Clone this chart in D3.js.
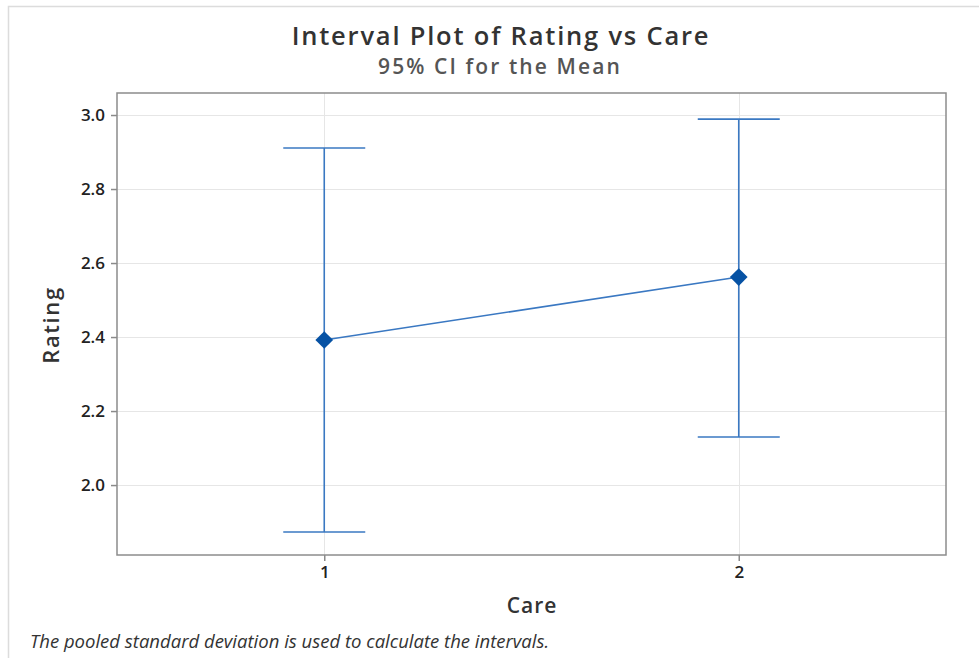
<!DOCTYPE html>
<html>
<head>
<meta charset="utf-8">
<script src="https://cdn.jsdelivr.net/npm/d3@7"></script>
<style>
  html, body { margin: 0; padding: 0; background: #fff; }
  svg { display: block; font-family: "Open Sans", "Noto Sans", sans-serif; }
</style>
</head>
<body>
<svg id="chart" width="979" height="658"></svg>
<script>
// Interval plot data: group means with 95% CI bounds
const categories = [1, 2];
const means = [2.392, 2.562];
const lower = [1.873, 2.130];
const upper = [2.911, 2.989];
const yTicks = [2.0, 2.2, 2.4, 2.6, 2.8, 3.0];

const svg = d3.select("#chart");
const W = 979, H = 658;
const plot = { left: 117, right: 946, top: 93, bottom: 555 };

// outer frame
svg.append("path")
  .attr("d", `M8.5,${H} V6.5 H${W}`)
  .attr("fill", "none").attr("stroke", "#dcdcdc").attr("stroke-width", 1.5);

const x = d3.scaleLinear().domain([0.5, 2.5]).range([plot.left, plot.right]);
const y = d3.scaleLinear().domain([1.811, 3.0595]).range([plot.bottom, plot.top]);

// gridlines
const grid = svg.append("g");
grid.selectAll("line.h").data(yTicks).join("line")
  .attr("x1", plot.left).attr("x2", plot.right)
  .attr("y1", d => Math.round(y(d)) + 0.5).attr("y2", d => Math.round(y(d)) + 0.5)
  .attr("stroke", "#e6e6e6").attr("stroke-width", 1);
grid.selectAll("line.v").data(categories).join("line")
  .attr("y1", plot.top).attr("y2", plot.bottom)
  .attr("x1", d => Math.round(x(d)) + 0.5).attr("x2", d => Math.round(x(d)) + 0.5)
  .attr("stroke", "#e6e6e6").attr("stroke-width", 1);

// axes
const yAxis = d3.axisLeft(y).tickValues(yTicks).tickFormat(d3.format(".1f")).tickSize(6).tickPadding(6);
const xAxis = d3.axisBottom(x).tickValues(categories).tickFormat(d3.format("d")).tickSize(6).tickPadding(5);

const gy = svg.append("g").attr("transform", `translate(${plot.left},0)`).call(yAxis);
const gx = svg.append("g").attr("transform", `translate(0,${plot.bottom})`).call(xAxis);
[gx, gy].forEach(g => {
  g.attr("font-size", 17).attr("font-family", "Open Sans, sans-serif");
  g.select(".domain").remove();
  g.selectAll(".tick line").attr("stroke", "#8a8a8a").attr("stroke-width", 1.5);
  g.selectAll(".tick text")
    .style("font-size", "17px").style("font-weight", "600").style("fill", "#222");
});

// plot frame
svg.append("rect")
  .attr("x", plot.left).attr("y", plot.top)
  .attr("width", plot.right - plot.left).attr("height", plot.bottom - plot.top)
  .attr("fill", "none").attr("stroke", "#8c8c8c").attr("stroke-width", 1.5);

const lineColor = "#3a78c2";
const markColor = "#0652a4";
const capHalf = 41;

// connecting line between means
svg.append("path")
  .datum(categories.map((c, i) => [c, means[i]]))
  .attr("d", d3.line().x(d => x(d[0])).y(d => y(d[1])))
  .attr("fill", "none").attr("stroke", lineColor).attr("stroke-width", 1.5);

// intervals
const iv = svg.append("g").selectAll("g").data(categories).join("g");
iv.append("line")
  .attr("x1", d => x(d)).attr("x2", d => x(d))
  .attr("y1", (d, i) => y(upper[i])).attr("y2", (d, i) => y(lower[i]))
  .attr("stroke", lineColor).attr("stroke-width", 1.6);
iv.append("line")
  .attr("x1", d => x(d) - capHalf).attr("x2", d => x(d) + capHalf)
  .attr("y1", (d, i) => y(upper[i])).attr("y2", (d, i) => y(upper[i]))
  .attr("stroke", lineColor).attr("stroke-width", 1.6);
iv.append("line")
  .attr("x1", d => x(d) - capHalf).attr("x2", d => x(d) + capHalf)
  .attr("y1", (d, i) => y(lower[i])).attr("y2", (d, i) => y(lower[i]))
  .attr("stroke", lineColor).attr("stroke-width", 1.6);

// mean markers
svg.append("g").selectAll("path").data(categories).join("path")
  .attr("transform", (d, i) => `translate(${x(d)},${y(means[i])})`)
  .attr("d", d3.symbol(d3.symbolDiamond2, 200)())
  .attr("fill", markColor);

// titles
svg.append("text").attr("x", 501).attr("y", 45).attr("text-anchor", "middle")
  .attr("font-size", 25.5).attr("fill", "#333").attr("font-weight", 600)
  .attr("letter-spacing", 1.8)
  .text("Interval Plot of Rating vs Care");
svg.append("text").attr("x", 500).attr("y", 74).attr("text-anchor", "middle")
  .attr("font-size", 21).attr("fill", "#555").attr("font-weight", 600)
  .attr("letter-spacing", 2.1)
  .text("95% CI for the Mean");

// axis titles
svg.append("text").attr("x", 532).attr("y", 613).attr("text-anchor", "middle")
  .attr("font-size", 21).attr("fill", "#333").attr("font-weight", 600)
  .attr("letter-spacing", 1).text("Care");
svg.append("text")
  .attr("transform", `translate(59,${325}) rotate(-90)`)
  .attr("text-anchor", "middle")
  .attr("font-size", 22).attr("fill", "#333").attr("font-weight", 600)
  .attr("letter-spacing", 1.6).text("Rating");

// footnote
svg.append("text").attr("x", 30).attr("y", 648)
  .attr("font-size", 18.5).attr("font-style", "italic").attr("fill", "#333")
  .text("The pooled standard deviation is used to calculate the intervals.");
</script>
</body>
</html>
